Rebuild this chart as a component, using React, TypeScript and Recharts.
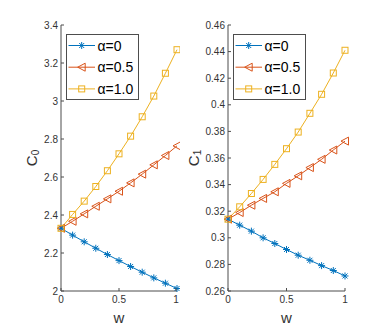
import { LineChart, Line, XAxis, YAxis, Legend } from "recharts";

// w values along the x axis
const wVals = [0, 0.1, 0.2, 0.3, 0.4, 0.5, 0.6, 0.7, 0.8, 0.9, 1];

// C0 for each alpha
const c0Alpha0 = [2.33, 2.294, 2.259, 2.225, 2.192, 2.16, 2.129, 2.099, 2.069, 2.041, 2.013];
const c0Alpha05 = [2.33, 2.367, 2.406, 2.446, 2.485, 2.525, 2.569, 2.615, 2.664, 2.713, 2.764];
const c0Alpha1 = [2.33, 2.403, 2.473, 2.55, 2.633, 2.722, 2.815, 2.917, 3.026, 3.146, 3.27];

// C1 for each alpha
const c1Alpha0 = [0.314, 0.3095, 0.305, 0.3, 0.2957, 0.2912, 0.2869, 0.2831, 0.2791, 0.2754, 0.2713];
const c1Alpha05 = [0.314, 0.319, 0.3245, 0.3296, 0.3346, 0.3409, 0.3466, 0.3528, 0.359, 0.366, 0.3727];
const c1Alpha1 = [0.314, 0.3233, 0.3333, 0.3439, 0.3552, 0.367, 0.3795, 0.3936, 0.4079, 0.4239, 0.441];

const xTicks = [0, 0.5, 1];
const c0Ticks = [2, 2.2, 2.4, 2.6, 2.8, 3, 3.2, 3.4];
const c1Ticks = [0.26, 0.28, 0.3, 0.32, 0.34, 0.36, 0.38, 0.4, 0.42, 0.44, 0.46];

const seriesNames = ["α=0", "α=0.5", "α=1.0"];
const seriesColors = ["#0072BD", "#D95319", "#EDB120"];
const seriesKeys = ["a0", "a05", "a1"];

const FONT = "'Liberation Sans', Arial, sans-serif";
const AXIS = "#4d4d4d";
const TXT = "#333";

const c0Data = wVals.map((w, i) => ({ w, a0: c0Alpha0[i], a05: c0Alpha05[i], a1: c0Alpha1[i] }));
const c1Data = wVals.map((w, i) => ({ w, a0: c1Alpha0[i], a05: c1Alpha05[i], a1: c1Alpha1[i] }));

// markers
function Marker({ kind, cx, cy, color }: any) {
  if (kind === 0) {
    const r = 3.5;
    const d = 2.5;
    return (
      <g stroke={color} strokeWidth={1}>
        <line x1={cx - r} y1={cy} x2={cx + r} y2={cy} />
        <line x1={cx} y1={cy - r} x2={cx} y2={cy + r} />
        <line x1={cx - d} y1={cy - d} x2={cx + d} y2={cy + d} />
        <line x1={cx - d} y1={cy + d} x2={cx + d} y2={cy - d} />
      </g>
    );
  }
  if (kind === 1) {
    return (
      <polygon
        points={`${cx - 4},${cy} ${cx + 3.5},${cy - 4} ${cx + 3.5},${cy + 4}`}
        fill="none"
        stroke={color}
        strokeWidth={1}
      />
    );
  }
  return <rect x={cx - 3} y={cy - 3} width={6} height={6} fill="none" stroke={color} strokeWidth={1} />;
}

const dotFor = (kind: number) => (p: any) =>
  <Marker key={`${kind}-${p.index}`} kind={kind} cx={p.cx} cy={p.cy} color={seriesColors[kind]} />;

// ticks (MATLAB style, pointing inward)
const LeftTick = (p: any) => (
  <g>
    <line x1={p.x + 3} y1={p.y} x2={p.x + 6} y2={p.y} stroke={AXIS} />
    <text x={p.x} y={p.y} dy="0.35em" textAnchor="end" fontSize={10} fontFamily={FONT} fill={TXT}>
      {String(p.payload.value)}
    </text>
  </g>
);
const BottomTick = (p: any) => (
  <g>
    <line x1={p.x} y1={p.y - 5} x2={p.x} y2={p.y - 8} stroke={AXIS} />
    <text x={p.x} y={p.y} dy="0.71em" textAnchor="middle" fontSize={10} fontFamily={FONT} fill={TXT}>
      {String(p.payload.value)}
    </text>
  </g>
);
const TopTick = (p: any) => <line x1={p.x} y1={p.y} x2={p.x} y2={p.y + 3} stroke={AXIS} />;
const RightTick = (p: any) => <line x1={p.x} y1={p.y} x2={p.x - 3} y2={p.y} stroke={AXIS} />;

const YTitle = ({ viewBox, cx, sub }: any) => {
  const cy = viewBox.y + viewBox.height / 2;
  return (
    <text
      x={cx}
      y={cy}
      transform={`rotate(-90, ${cx}, ${cy})`}
      textAnchor="middle"
      dominantBaseline="central"
      fontSize={15}
      fontFamily={FONT}
      fill={TXT}
    >
      C<tspan fontSize={10} dy={4}>{sub}</tspan>
    </text>
  );
};

const XTitle = ({ viewBox }: any) => (
  <text
    x={viewBox.x + viewBox.width / 2}
    y={viewBox.y + 32}
    textAnchor="middle"
    fontSize={15}
    fontFamily={FONT}
    fill={TXT}
  >
    w
  </text>
);

const LegendBox = () => (
  <svg width={73} height={66} style={{ display: "block" }}>
    <rect x={0.5} y={0.5} width={72} height={65} fill="#fff" stroke={AXIS} />
    {seriesNames.map((n, i) => {
      const y = 11.5 + i * 21.7;
      return (
        <g key={n}>
          <line x1={2.5} y1={y} x2={29} y2={y} stroke={seriesColors[i]} strokeWidth={1} />
          <Marker kind={i} cx={15.7} cy={y} color={seriesColors[i]} />
          <text x={31.5} y={y} dominantBaseline="central" fontSize={14} fontFamily={FONT} fill="#000">
            {n}
          </text>
        </g>
      );
    })}
  </svg>
);

function Panel({ data, ticks, sub, width, marginRight, yWidth, titleX, legendLeft }: any) {
  const domain = [ticks[0], ticks[ticks.length - 1]];
  return (
    <LineChart width={width} height={327} data={data} margin={{ top: 25, right: marginRight, bottom: 0, left: 0 }}>
      <XAxis
        dataKey="w"
        type="number"
        domain={[0, 1]}
        ticks={xTicks}
        height={36}
        tickSize={0}
        tickMargin={5}
        tickLine={false}
        tick={BottomTick}
        stroke={AXIS}
        label={<XTitle />}
      />
      <XAxis
        xAxisId="top"
        orientation="top"
        type="number"
        domain={[0, 1]}
        allowDataOverflow
        ticks={xTicks}
        height={0}
        tickSize={0}
        tickLine={false}
        tick={TopTick}
        stroke={AXIS}
      />
      <YAxis
        type="number"
        domain={domain}
        ticks={ticks}
        width={yWidth}
        tickSize={0}
        tickMargin={3}
        tickLine={false}
        tick={LeftTick}
        stroke={AXIS}
        label={<YTitle cx={titleX} sub={sub} />}
      />
      <YAxis
        yAxisId="right"
        orientation="right"
        type="number"
        domain={domain}
        allowDataOverflow
        ticks={ticks}
        width={0}
        tickSize={0}
        tickLine={false}
        tick={RightTick}
        stroke={AXIS}
      />
      {seriesKeys.map((k, i) => (
        <Line
          key={k}
          dataKey={k}
          name={seriesNames[i]}
          stroke={seriesColors[i]}
          strokeWidth={1}
          dot={dotFor(i)}
          activeDot={false}
          isAnimationActive={false}
        />
      ))}
      <Legend
        layout="vertical"
        align="center"
        verticalAlign="middle"
        content={LegendBox}
        wrapperStyle={{ left: legendLeft, top: 34, width: 73, height: 66 }}
      />
    </LineChart>
  );
}

export default function App() {
  return (
    <div style={{ position: "absolute", left: 0, top: 0, width: 382, height: 327, background: "#fff" }}>
      <div style={{ position: "absolute", left: 0, top: 0 }}>
        <Panel data={c0Data} ticks={c0Ticks} sub="0" width={180} marginRight={3} yWidth={61} titleX={31} legendLeft={66} />
      </div>
      <div style={{ position: "absolute", left: 180, top: 0 }}>
        <Panel data={c1Data} ticks={c1Ticks} sub="1" width={202} marginRight={37} yWidth={48} titleX={13} legendLeft={53} />
      </div>
    </div>
  );
}
